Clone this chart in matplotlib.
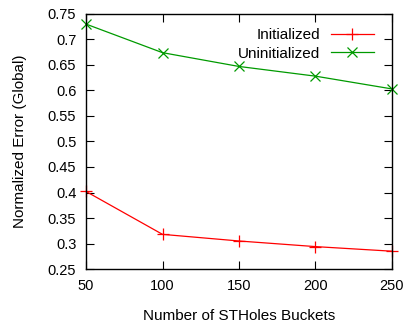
from matplotlib import pyplot as plt

buckets = [50, 100, 150, 200, 250]
initialized = [0.402, 0.318, 0.305, 0.294, 0.285]
uninitialized = [0.730, 0.674, 0.647, 0.628, 0.603]
y_ticks = [0.25, 0.3, 0.35, 0.4, 0.45, 0.5, 0.55, 0.6, 0.65, 0.7, 0.75]
y_tick_labels = ['0.25', '0.3', '0.35', '0.4', '0.45', '0.5', '0.55', '0.6', '0.65', '0.7', '0.75']


def main():
    plt.rcParams['font.family'] = ['Liberation Sans', 'DejaVu Sans']
    plt.rcParams['font.size'] = 11

    fig = plt.figure(figsize=(4.04, 3.23), dpi=100)
    ax = fig.add_axes([0.213, 0.167, 0.757, 0.79])

    ax.plot(buckets, initialized, '-', color='#ff0000', lw=0.9,
            marker='+', ms=8, mew=0.9, label='Initialized', clip_on=False)
    ax.plot(buckets, uninitialized, '-', color='#009a00', lw=0.9,
            marker='x', ms=7, mew=0.9, label='Uninitialized', clip_on=False)

    ax.set_xlim(50, 250)
    ax.set_ylim(0.25, 0.75)
    ax.set_xticks(buckets)
    ax.set_yticks(y_ticks)
    ax.set_yticklabels(y_tick_labels)

    ax.tick_params(direction='in', top=True, right=True, length=6,
                   width=0.8, pad=7, labelsize=10.5)
    for spine in ax.spines.values():
        spine.set_linewidth(1.0)

    ax.set_xlabel('Number of STHoles Buckets', labelpad=12)
    ax.set_ylabel('Normalized Error (Global)', labelpad=15)

    ax.legend(loc='upper right', frameon=False, markerfirst=False,
              handlelength=2.8, fontsize=11, borderaxespad=0,
              labelspacing=0.3, handletextpad=0.7,
              bbox_to_anchor=(0.96, 0.968))

    plt.savefig('out.png', dpi=100)


if __name__ == '__main__':
    main()
